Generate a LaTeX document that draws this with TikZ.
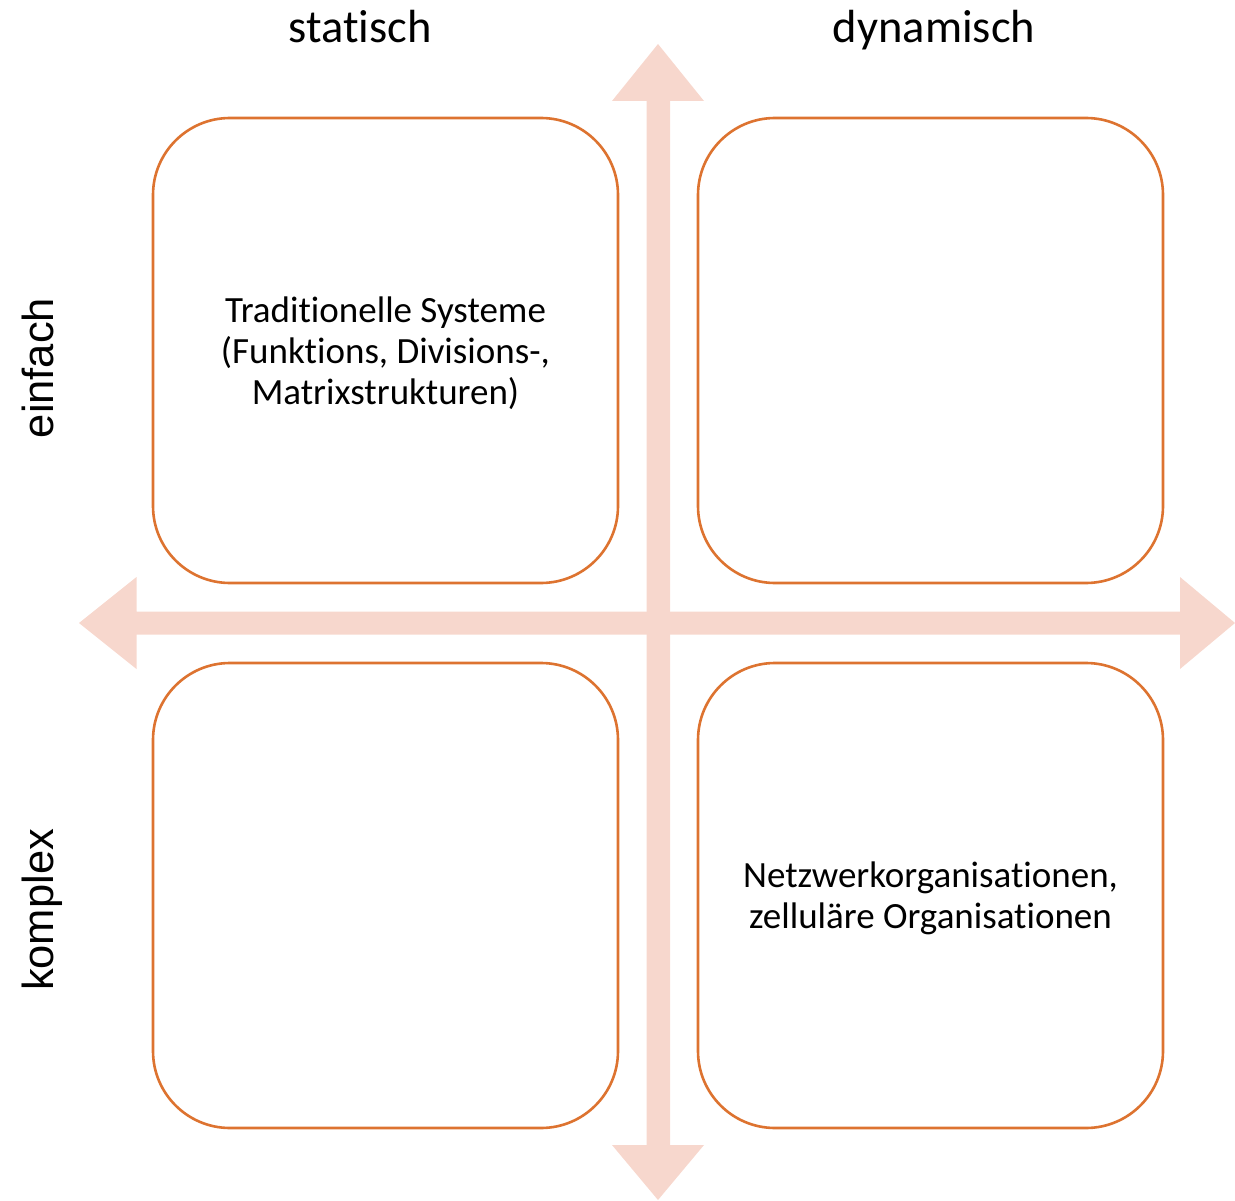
\documentclass[tikz,border=0pt]{standalone}
\usepackage{fontspec}
\setmainfont[Ligatures=NoCommon,RawFeature=-liga]{Carlito}
\newfontfamily\arialf{Liberation Sans}
\definecolor{boxline}{HTML}{DD7330}
\definecolor{axisfill}{HTML}{F7D7CD}
\begin{document}
\begin{tikzpicture}[x=1pt,y=-1pt,
  quad/.style={draw=boxline,line width=2.6pt,rounded corners=77pt,minimum width=465pt,minimum height=465pt,inner sep=0pt,align=center,font=\fontsize{37}{41}\selectfont},
  toplabel/.style={anchor=base,inner sep=0pt,font=\fontsize{46.5}{50}\selectfont},
  sidelabel/.style={anchor=base,rotate=90,inner sep=0pt,font=\arialf\fontsize{43.5}{48}\selectfont},
  axis/.style={fill=axisfill,draw=none}]
\useasboundingbox (0,0) rectangle (1235,1201);
% axes
\fill[axis] (658,44) -- (704,101) -- (670,101) -- (670,1145) -- (704,1145) -- (658,1200) -- (612,1145) -- (646.5,1145) -- (646.5,101) -- (612,101) -- cycle;
\fill[axis] (79,623) -- (136.5,577) -- (136.5,611.5) -- (1180,611.5) -- (1180,577) -- (1235,623) -- (1180,669) -- (1180,634.5) -- (136.5,634.5) -- (136.5,669) -- cycle;
% boxes
\node[quad] (tl) at (385.5,350.5) {};
\node[quad] (tr) at (930.5,350.5) {};
\node[quad] (bl) at (385.5,895.5) {};
\node[quad] (br) at (930.5,895.5) {};
\node[align=center,inner sep=0pt,font=\fontsize{37}{41}\selectfont] (tltext) at ([yshift=-2.5pt]tl.center) {Traditionelle Systeme\\(Funktions, Divisions-,\\Matrixstrukturen)};
\node[align=center,inner sep=0pt,font=\fontsize{37}{41}\selectfont] (brtext) at ([yshift=-2.5pt]br.center) {Netzwerkorganisationen,\\zelluläre Organisationen};
% labels
\node[toplabel] (ls) at (360,43) {statisch};
\node[toplabel] (ld) at (934,43) {dynamisch};
\node[sidelabel] (le) at (53,368) {einfach};
\node[sidelabel] (lk) at (53,910) {komplex};
\end{tikzpicture}
\end{document}
